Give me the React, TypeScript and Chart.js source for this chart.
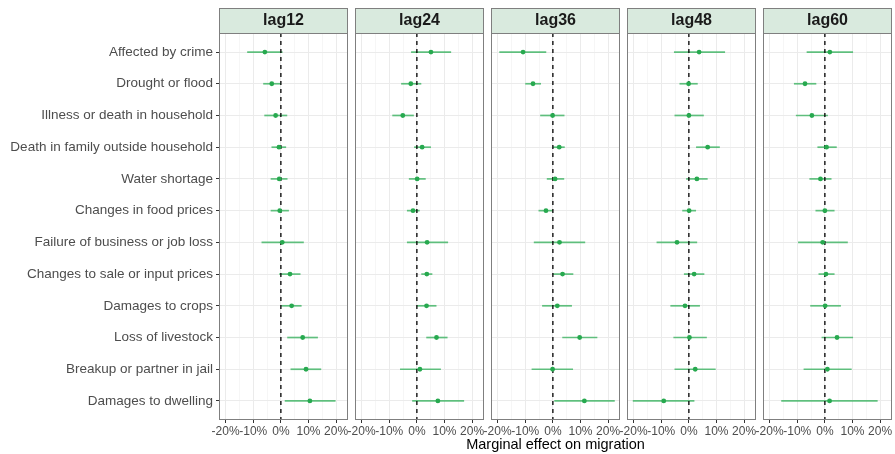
import React, { useEffect, useRef } from "react";
import { Chart, registerables } from "chart.js";

Chart.register(...registerables);

// ---------- data ----------
const categories = [
  "Affected by crime",
  "Drought or flood",
  "Illness or death in household",
  "Death in family outside household",
  "Water shortage",
  "Changes in food prices",
  "Failure of business or job loss",
  "Changes to sale or input prices",
  "Damages to crops",
  "Loss of livestock",
  "Breakup or partner in jail",
  "Damages to dwelling",
];

const panelLabels = ["lag12", "lag24", "lag36", "lag48", "lag60"];

const xTickValues = [-20, -15, -10, -5, 0, 5, 10, 15, 20];

const xAxisTitle = "Marginal effect on migration";

// estimates / lower / upper bounds, in percent
const lag12Est = [-5.8, -3.3, -1.9, -0.7, -0.6, -0.4, 0.5, 3.3, 3.9, 7.9, 9.1, 10.5];
const lag12Lo = [-12.2, -6.4, -6.0, -3.4, -3.7, -3.7, -7.0, -0.6, 0.1, 2.3, 3.5, 1.4];
const lag12Hi = [0.6, 0.0, 2.3, 1.9, 2.4, 2.9, 8.3, 7.1, 7.5, 13.4, 14.6, 19.8];

const lag24Est = [5.1, -2.2, -5.1, 1.9, 0.1, -1.4, 3.7, 3.6, 3.5, 7.1, 1.1, 7.6];
const lag24Lo = [-2.1, -5.7, -8.9, -1.0, -2.9, -3.6, -3.6, 1.6, 0.0, 3.4, -6.1, -1.7];
const lag24Hi = [12.4, 1.6, -1.1, 5.1, 3.2, 1.0, 11.3, 5.6, 7.1, 11.1, 8.7, 17.1];

const lag36Est = [-10.8, -7.2, -0.1, 2.3, 0.8, -2.5, 2.4, 3.5, 1.6, 9.7, -0.1, 11.4];
const lag36Lo = [-19.4, -10.0, -4.6, 0.0, -2.2, -5.2, -6.9, 0.0, -3.9, 3.4, -7.7, 0.5];
const lag36Hi = [-2.4, -4.3, 4.2, 4.3, 4.1, 0.0, 11.7, 7.4, 6.9, 16.1, 7.3, 22.4];

const lag48Est = [3.7, -0.1, 0.0, 6.8, 2.9, 0.1, -4.3, 1.9, -1.4, 0.2, 2.3, -9.1];
const lag48Lo = [-5.4, -3.4, -5.2, 2.6, -1.0, -2.4, -11.7, -1.8, -6.7, -5.6, -5.2, -20.3];
const lag48Hi = [13.1, 3.2, 5.4, 11.2, 6.8, 2.6, 3.0, 5.6, 4.0, 6.5, 9.7, 2.0];

const lag60Est = [1.8, -7.2, -4.7, 0.6, -1.6, 0.0, -0.8, 0.4, 0.1, 4.4, 0.9, 1.7];
const lag60Lo = [-6.6, -11.2, -10.5, -2.7, -5.6, -3.4, -9.7, -2.3, -5.3, -1.2, -7.7, -15.8];
const lag60Hi = [10.2, -3.1, 1.1, 4.3, 2.4, 3.5, 8.3, 3.5, 5.8, 10.2, 9.7, 19.1];

const estimates = [lag12Est, lag24Est, lag36Est, lag48Est, lag60Est];
const lowers = [lag12Lo, lag24Lo, lag36Lo, lag48Lo, lag60Lo];
const uppers = [lag12Hi, lag24Hi, lag36Hi, lag48Hi, lag60Hi];

// ---------- layout / style ----------
const FONT = "'Liberation Sans', Arial, Helvetica, sans-serif";
const W = 895;
const H = 454;
const PANEL_LEFTS = [219, 355, 491, 627, 763];
const PANEL_W = 129;
const PAD = 24;
const STRIP_TOP = 8;
const PANEL_BOTTOM = 420;
const X_MIN = -22.4;
const X_MAX = 24.3;
const BORDER = "#7f7f7f";
const STRIP_FILL = "#d9eade";
const LINE_COLOR = "rgba(40,172,82,0.72)";
const POINT_COLOR = "#27a94f";
const TITLE_IDX = 2;
const TITLE_Y = 444.5;

const isMajor = (v: number) => Math.abs(Math.round(v / 10) * 10 - v) < 1e-6;

const stripPlugin = {
  id: "stripPanel",
  beforeDraw(chart: any) {
    const { ctx, chartArea: a } = chart;
    ctx.save();
    ctx.fillStyle = STRIP_FILL;
    ctx.fillRect(a.left, STRIP_TOP, a.right - a.left, a.top - STRIP_TOP);
    ctx.strokeStyle = BORDER;
    ctx.lineWidth = 1;
    ctx.strokeRect(a.left + 0.5, STRIP_TOP + 0.5, a.right - a.left - 1, a.top - STRIP_TOP);
    ctx.restore();
  },
  afterDraw(chart: any) {
    const { ctx, chartArea: a } = chart;
    ctx.save();
    ctx.strokeStyle = BORDER;
    ctx.lineWidth = 1;
    ctx.strokeRect(a.left + 0.5, a.top + 0.5, a.right - a.left - 1, a.bottom - a.top - 1);
    const t = chart.options.plugins.stripPanel?.axisTitle;
    if (t) {
      ctx.fillStyle = "#000000";
      ctx.font = `14.5px ${FONT}`;
      ctx.textAlign = "center";
      ctx.textBaseline = "middle";
      ctx.fillText(t, (a.left + a.right) / 2, TITLE_Y);
    }
    ctx.restore();
  },
};

function Panel({ idx }: { idx: number }) {
  const ref = useRef<HTMLCanvasElement | null>(null);
  const first = idx === 0;
  const left = first ? 0 : PANEL_LEFTS[idx] - PAD;
  const width = first ? PANEL_LEFTS[0] + PANEL_W + PAD : PANEL_W + 2 * PAD;

  useEffect(() => {
    if (!ref.current) return;
    const est = estimates[idx];
    const lo = lowers[idx];
    const hi = uppers[idx];
    const datasets: any[] = [];
    datasets.push({
      label: "estimate",
      data: est.map((v, i) => ({ x: v, y: i })),
      showLine: false,
      pointRadius: 2.4,
      pointBackgroundColor: POINT_COLOR,
      pointBorderWidth: 0,
      pointBorderColor: POINT_COLOR,
    });
    datasets.push({
      label: "zero",
      data: [
        { x: 0, y: -0.6 },
        { x: 0, y: 11.6 },
      ],
      showLine: true,
      borderColor: "#000000",
      borderWidth: 1.3,
      borderDash: [4, 4],
      pointRadius: 0,
    });
    categories.forEach((_, i) => {
      datasets.push({
        label: "ci" + i,
        data: [
          { x: lo[i], y: i },
          { x: hi[i], y: i },
        ],
        showLine: true,
        borderColor: LINE_COLOR,
        borderWidth: 1.7,
        pointRadius: 0,
      });
    });

    const chart = new Chart(ref.current, {
      type: "scatter",
      data: { datasets },
      options: {
        responsive: false,
        animation: false,
        devicePixelRatio: 1,
        layout: {
          padding: { left: first ? 0 : PAD, right: PAD, top: STRIP_TOP, bottom: 0 },
        },
        plugins: {
          legend: { display: false },
          tooltip: { enabled: false },
          stripPanel: { axisTitle: idx === TITLE_IDX ? xAxisTitle : "" },
          title: {
            display: true,
            text: panelLabels[idx],
            fullSize: false,
            color: "#1a1a1a",
            font: { family: FONT, size: 16, weight: "bold", lineHeight: 1.2 },
            padding: { top: 3, bottom: 2.8 },
          },
        },
        scales: {
          x: {
            type: "linear",
            min: X_MIN,
            max: X_MAX,
            afterBuildTicks: (s: any) => {
              s.ticks = xTickValues.map((v) => ({ value: v }));
            },
            afterFit: (s: any) => {
              s.height = H - PANEL_BOTTOM;
            },
            border: { display: false },
            grid: {
              color: (c: any) => (c.tick && isMajor(c.tick.value) ? "#ebebeb" : "#f4f4f4"),
              lineWidth: (c: any) => (c.tick && isMajor(c.tick.value) ? 1 : 0.8),
              tickColor: (c: any) => (c.tick && isMajor(c.tick.value) ? "#333333" : "rgba(0,0,0,0)"),
              tickLength: 3,
              drawTicks: true,
            },
            ticks: {
              autoSkip: false,
              maxRotation: 0,
              minRotation: 0,
              padding: 1,
              color: "#4d4d4d",
              font: { family: FONT, size: 12 },
              callback: (v: any) => (isMajor(Number(v)) ? `${Math.round(Number(v))}%` : ""),
            },
            title: { display: false },
          },
          y: {
            type: "linear",
            reverse: true,
            min: -0.6,
            max: 11.6,
            afterBuildTicks: (s: any) => {
              s.ticks = categories.map((_, i) => ({ value: i }));
            },
            afterFit: (s: any) => {
              s.width = first ? PANEL_LEFTS[0] : 0;
            },
            border: { display: false },
            grid: {
              color: "#ebebeb",
              lineWidth: 1,
              drawTicks: first,
              tickLength: 3,
              tickColor: "#333333",
            },
            ticks: {
              display: first,
              autoSkip: false,
              padding: 3,
              color: "#4d4d4d",
              font: { family: FONT, size: 13.5 },
              callback: (v: any) => categories[Math.round(Number(v))] ?? "",
            },
          },
        },
      } as any,
      plugins: [stripPlugin],
    });
    return () => chart.destroy();
  }, [idx, first]);

  return (
    <canvas
      ref={ref}
      width={width}
      height={H}
      style={{ position: "absolute", left, top: 0, width, height: H }}
    />
  );
}

export default function App() {
  return (
    <div
      style={{
        position: "fixed",
        left: 0,
        top: 0,
        width: W,
        height: H,
        background: "#ffffff",
        overflow: "hidden",
      }}
    >
      {panelLabels.map((_, i) => (
        <Panel key={i} idx={i} />
      ))}
    </div>
  );
}
